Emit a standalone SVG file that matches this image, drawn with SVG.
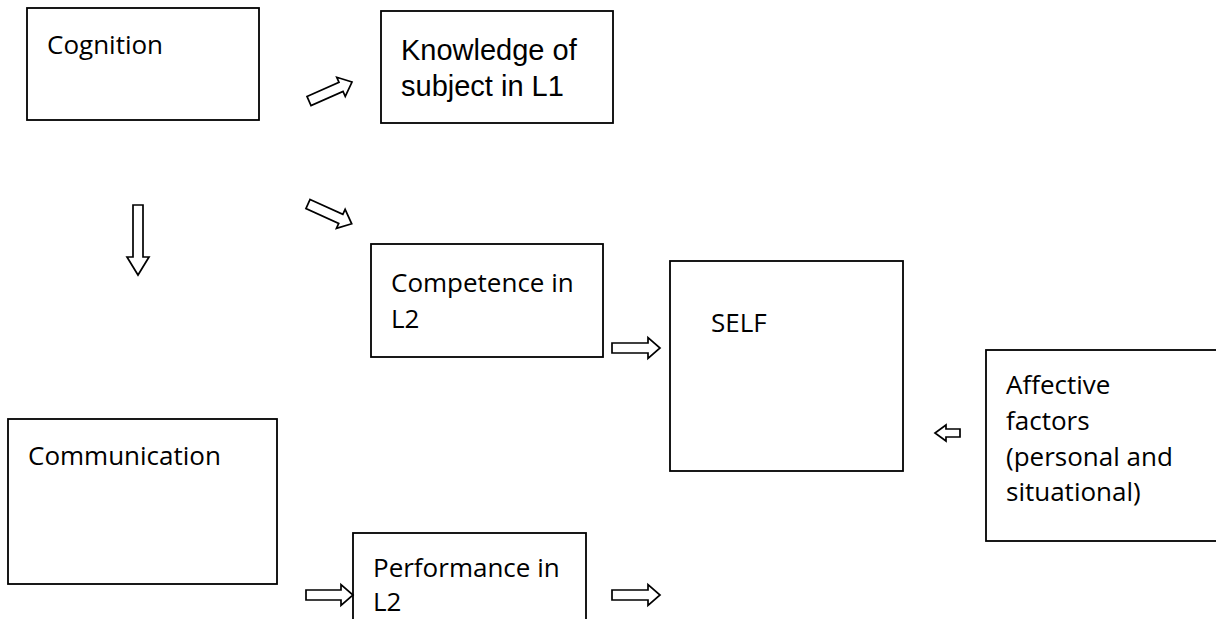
<svg xmlns="http://www.w3.org/2000/svg" width="1216" height="619" viewBox="0 0 1216 619">
<style>
.box{fill:#fff;stroke:#000;stroke-width:1.8}
.t{font-family:"Open Sans","Noto Sans",sans-serif;font-size:26px;fill:#000}
.a{font-family:"Liberation Sans",Arial,sans-serif;font-size:29px;fill:#000}
.arr{fill:#fff;stroke:#000;stroke-width:1.7;stroke-linejoin:miter}
</style>
<defs>
<polygon id="ar48" points="0,-5 36,-5 36,-10.5 48,0 36,10.5 36,5 0,5"/>
<polygon id="ar47" points="0,-5 35,-5 35,-10.5 47,0 35,10.5 35,5 0,5"/>
<polygon id="ar70" points="0,-5 52,-5 52,-11 70,0 52,11 52,5 0,5"/>
<polygon id="ar25" points="0,-4 14,-4 14,-8 25,0 14,8 14,4 0,4"/>
</defs>
<rect width="1216" height="619" fill="#fff"/>
<g id="cognition">
<rect class="box" x="27" y="8" width="232" height="112"/>
<text class="t" x="47" y="54">Cognition</text>
</g>
<g id="knowledge">
<rect class="box" x="381" y="11" width="232" height="112"/>
<text class="a" x="401" y="60">Knowledge of</text>
<text class="a" x="401" y="96">subject in L1</text>
</g>
<g id="competence">
<rect class="box" x="371" y="244" width="232" height="113"/>
<text class="t" x="391" y="292">Competence in</text>
<text class="t" x="391" y="328">L2</text>
</g>
<g id="self">
<rect class="box" x="670" y="261" width="233" height="210"/>
<text class="t" x="711" y="332">SELF</text>
</g>
<g id="affective">
<rect class="box" x="986" y="350" width="240" height="191"/>
<text class="t" x="1006" y="394">Affective</text>
<text class="t" x="1006" y="430">factors</text>
<text class="t" x="1006" y="466">(personal and</text>
<text class="t" x="1006" y="501">situational)</text>
</g>
<g id="communication">
<rect class="box" x="8" y="419" width="269" height="165"/>
<text class="t" x="28" y="465">Communication</text>
</g>
<g id="performance">
<rect class="box" x="353" y="533" width="233" height="100"/>
<text class="t" x="373" y="577">Performance in</text>
<text class="t" x="373" y="611">L2</text>
</g>
<g id="connectors">
<use href="#ar47" class="arr" transform="translate(309,101) rotate(-23.8)"/>
<use href="#ar48" class="arr" transform="translate(308,204) rotate(24.4)"/>
<use href="#ar70" class="arr" transform="translate(138,205) rotate(90)"/>
<use href="#ar48" class="arr" transform="translate(612,348)"/>
<use href="#ar25" class="arr" transform="translate(960,433) rotate(180)"/>
<use href="#ar47" class="arr" transform="translate(306,595)"/>
<use href="#ar48" class="arr" transform="translate(612,595)"/>
</g>
</svg>
